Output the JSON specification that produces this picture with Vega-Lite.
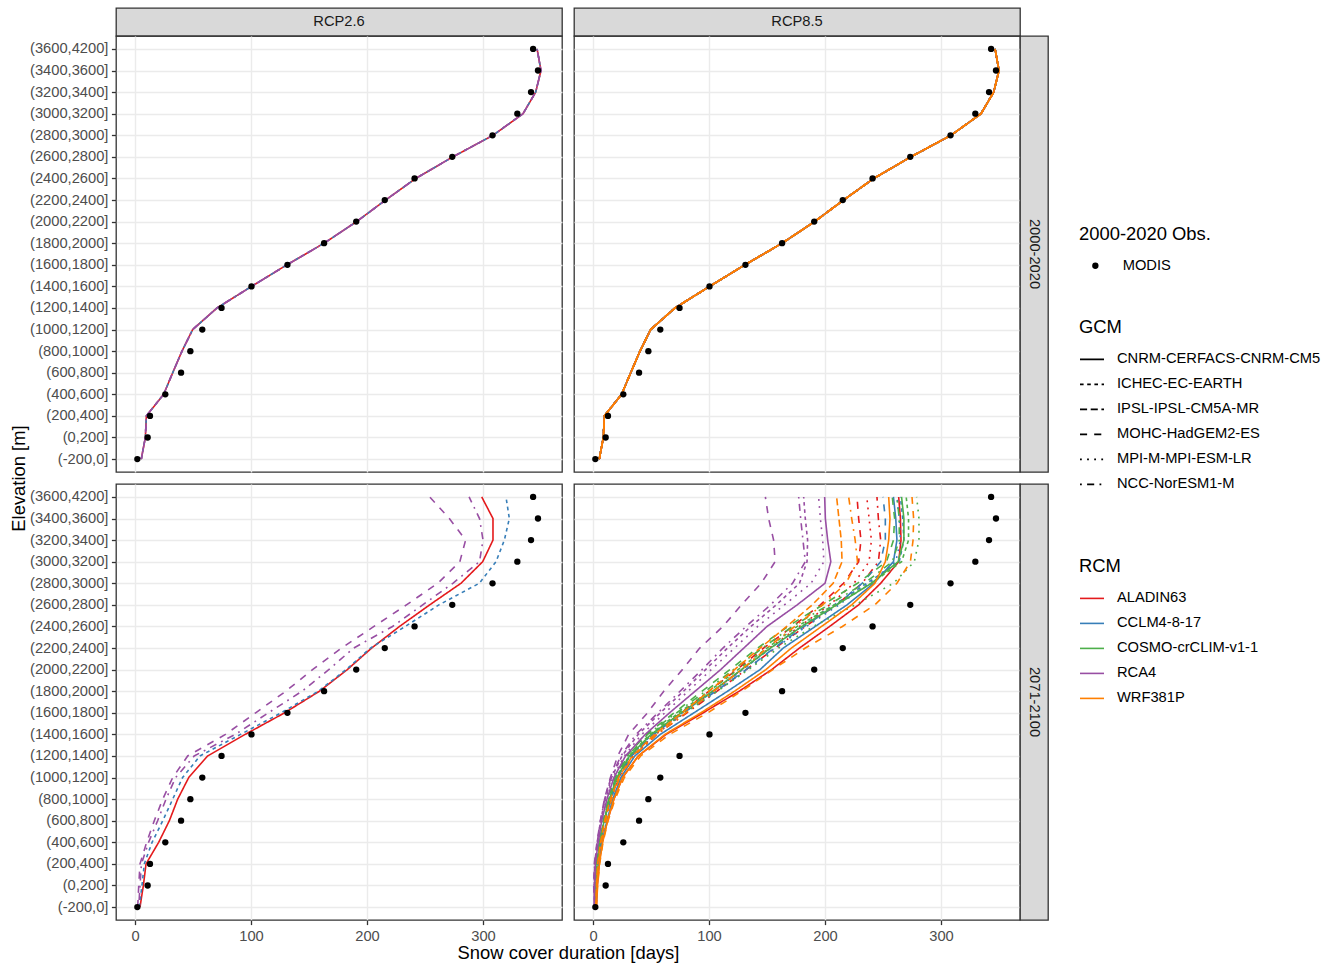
{
"$schema": "https://vega.github.io/schema/vega-lite/v6.json",
"background": "white",
"padding": {"left": 8, "top": 7, "right": 5, "bottom": 5},
"datasets": {
"bands": [
{"k":"e0","band":"(-200,0]","idx":0},{"k":"e1","band":"(0,200]","idx":1},{"k":"e2","band":"(200,400]","idx":2},{"k":"e3","band":"(400,600]","idx":3},{"k":"e4","band":"(600,800]","idx":4},{"k":"e5","band":"(800,1000]","idx":5},{"k":"e6","band":"(1000,1200]","idx":6},{"k":"e7","band":"(1200,1400]","idx":7},{"k":"e8","band":"(1400,1600]","idx":8},{"k":"e9","band":"(1600,1800]","idx":9},{"k":"e10","band":"(1800,2000]","idx":10},{"k":"e11","band":"(2000,2200]","idx":11},{"k":"e12","band":"(2200,2400]","idx":12},{"k":"e13","band":"(2400,2600]","idx":13},{"k":"e14","band":"(2600,2800]","idx":14},{"k":"e15","band":"(2800,3000]","idx":15},{"k":"e16","band":"(3000,3200]","idx":16},{"k":"e17","band":"(3200,3400]","idx":17},{"k":"e18","band":"(3400,3600]","idx":18},{"k":"e19","band":"(3600,4200]","idx":19}
],
"obs": [
{"band":"(3600,4200]","v":343.2,"src":"MODIS"},{"band":"(3400,3600]","v":347.4,"src":"MODIS"},{"band":"(3200,3400]","v":341.4,"src":"MODIS"},{"band":"(3000,3200]","v":329.6,"src":"MODIS"},{"band":"(2800,3000]","v":308.2,"src":"MODIS"},{"band":"(2600,2800]","v":273.5,"src":"MODIS"},{"band":"(2400,2600]","v":241,"src":"MODIS"},{"band":"(2200,2400]","v":215.3,"src":"MODIS"},{"band":"(2000,2200]","v":190.7,"src":"MODIS"},{"band":"(1800,2000]","v":163,"src":"MODIS"},{"band":"(1600,1800]","v":131.4,"src":"MODIS"},{"band":"(1400,1600]","v":100.4,"src":"MODIS"},{"band":"(1200,1400]","v":74.6,"src":"MODIS"},{"band":"(1000,1200]","v":58,"src":"MODIS"},{"band":"(800,1000]","v":47.7,"src":"MODIS"},{"band":"(600,800]","v":39.7,"src":"MODIS"},{"band":"(400,600]","v":26.1,"src":"MODIS"},{"band":"(200,400]","v":12.9,"src":"MODIS"},{"band":"(0,200]","v":10.9,"src":"MODIS"},{"band":"(-200,0]","v":2,"src":"MODIS"}
],
"lines": [
{"s":"RCP2.6","p":"2000-2020","g":"CNRM-CERFACS-CNRM-CM5","r":"ALADIN63","e0":5.4,"e1":8.9,"e2":9.8,"e3":24.7,"e4":32.5,"e5":40.5,"e6":49.7,"e7":70.7,"e8":100.5,"e9":131,"e10":163,"e11":191,"e12":216,"e13":242,"e14":274,"e15":308.6,"e16":334.5,"e17":345.4,"e18":350,"e19":346.6},
{"s":"RCP2.6","p":"2000-2020","g":"ICHEC-EC-EARTH","r":"CCLM4-8-17","e0":5.4,"e1":8.9,"e2":9.8,"e3":24.7,"e4":32.5,"e5":40.5,"e6":49.7,"e7":70.7,"e8":100.5,"e9":131,"e10":163,"e11":191,"e12":216,"e13":242,"e14":274,"e15":308.6,"e16":334.5,"e17":345.4,"e18":350,"e19":346.6},
{"s":"RCP2.6","p":"2000-2020","g":"MOHC-HadGEM2-ES","r":"RCA4","e0":5.4,"e1":8.9,"e2":9.8,"e3":24.7,"e4":32.5,"e5":40.5,"e6":49.7,"e7":70.7,"e8":100.5,"e9":131,"e10":163,"e11":191,"e12":216,"e13":242,"e14":274,"e15":308.6,"e16":334.5,"e17":345.4,"e18":350,"e19":346.6},
{"s":"RCP2.6","p":"2000-2020","g":"NCC-NorESM1-M","r":"RCA4","e0":5.4,"e1":8.9,"e2":9.8,"e3":24.7,"e4":32.5,"e5":40.5,"e6":49.7,"e7":70.7,"e8":100.5,"e9":131,"e10":163,"e11":191,"e12":216,"e13":242,"e14":274,"e15":308.6,"e16":334.5,"e17":345.4,"e18":350,"e19":346.6},
{"s":"RCP8.5","p":"2000-2020","g":"MOHC-HadGEM2-ES","r":"ALADIN63","e0":5.4,"e1":8.9,"e2":9.8,"e3":24.7,"e4":32.5,"e5":40.5,"e6":49.7,"e7":70.7,"e8":100.5,"e9":131,"e10":163,"e11":191,"e12":216,"e13":242,"e14":274,"e15":308.6,"e16":334.5,"e17":345.4,"e18":350,"e19":346.6},
{"s":"RCP8.5","p":"2000-2020","g":"MPI-M-MPI-ESM-LR","r":"ALADIN63","e0":5.4,"e1":8.9,"e2":9.8,"e3":24.7,"e4":32.5,"e5":40.5,"e6":49.7,"e7":70.7,"e8":100.5,"e9":131,"e10":163,"e11":191,"e12":216,"e13":242,"e14":274,"e15":308.6,"e16":334.5,"e17":345.4,"e18":350,"e19":346.6},
{"s":"RCP8.5","p":"2000-2020","g":"NCC-NorESM1-M","r":"ALADIN63","e0":5.4,"e1":8.9,"e2":9.8,"e3":24.7,"e4":32.5,"e5":40.5,"e6":49.7,"e7":70.7,"e8":100.5,"e9":131,"e10":163,"e11":191,"e12":216,"e13":242,"e14":274,"e15":308.6,"e16":334.5,"e17":345.4,"e18":350,"e19":346.6},
{"s":"RCP8.5","p":"2000-2020","g":"CNRM-CERFACS-CNRM-CM5","r":"ALADIN63","e0":5.4,"e1":8.9,"e2":9.8,"e3":24.7,"e4":32.5,"e5":40.5,"e6":49.7,"e7":70.7,"e8":100.5,"e9":131,"e10":163,"e11":191,"e12":216,"e13":242,"e14":274,"e15":308.6,"e16":334.5,"e17":345.4,"e18":350,"e19":346.6},
{"s":"RCP8.5","p":"2000-2020","g":"MOHC-HadGEM2-ES","r":"CCLM4-8-17","e0":5.4,"e1":8.9,"e2":9.8,"e3":24.7,"e4":32.5,"e5":40.5,"e6":49.7,"e7":70.7,"e8":100.5,"e9":131,"e10":163,"e11":191,"e12":216,"e13":242,"e14":274,"e15":308.6,"e16":334.5,"e17":345.4,"e18":350,"e19":346.6},
{"s":"RCP8.5","p":"2000-2020","g":"CNRM-CERFACS-CNRM-CM5","r":"CCLM4-8-17","e0":5.4,"e1":8.9,"e2":9.8,"e3":24.7,"e4":32.5,"e5":40.5,"e6":49.7,"e7":70.7,"e8":100.5,"e9":131,"e10":163,"e11":191,"e12":216,"e13":242,"e14":274,"e15":308.6,"e16":334.5,"e17":345.4,"e18":350,"e19":346.6},
{"s":"RCP8.5","p":"2000-2020","g":"MPI-M-MPI-ESM-LR","r":"CCLM4-8-17","e0":5.4,"e1":8.9,"e2":9.8,"e3":24.7,"e4":32.5,"e5":40.5,"e6":49.7,"e7":70.7,"e8":100.5,"e9":131,"e10":163,"e11":191,"e12":216,"e13":242,"e14":274,"e15":308.6,"e16":334.5,"e17":345.4,"e18":350,"e19":346.6},
{"s":"RCP8.5","p":"2000-2020","g":"ICHEC-EC-EARTH","r":"CCLM4-8-17","e0":5.4,"e1":8.9,"e2":9.8,"e3":24.7,"e4":32.5,"e5":40.5,"e6":49.7,"e7":70.7,"e8":100.5,"e9":131,"e10":163,"e11":191,"e12":216,"e13":242,"e14":274,"e15":308.6,"e16":334.5,"e17":345.4,"e18":350,"e19":346.6},
{"s":"RCP8.5","p":"2000-2020","g":"MOHC-HadGEM2-ES","r":"COSMO-crCLIM-v1-1","e0":5.4,"e1":8.9,"e2":9.8,"e3":24.7,"e4":32.5,"e5":40.5,"e6":49.7,"e7":70.7,"e8":100.5,"e9":131,"e10":163,"e11":191,"e12":216,"e13":242,"e14":274,"e15":308.6,"e16":334.5,"e17":345.4,"e18":350,"e19":346.6},
{"s":"RCP8.5","p":"2000-2020","g":"CNRM-CERFACS-CNRM-CM5","r":"COSMO-crCLIM-v1-1","e0":5.4,"e1":8.9,"e2":9.8,"e3":24.7,"e4":32.5,"e5":40.5,"e6":49.7,"e7":70.7,"e8":100.5,"e9":131,"e10":163,"e11":191,"e12":216,"e13":242,"e14":274,"e15":308.6,"e16":334.5,"e17":345.4,"e18":350,"e19":346.6},
{"s":"RCP8.5","p":"2000-2020","g":"NCC-NorESM1-M","r":"COSMO-crCLIM-v1-1","e0":5.4,"e1":8.9,"e2":9.8,"e3":24.7,"e4":32.5,"e5":40.5,"e6":49.7,"e7":70.7,"e8":100.5,"e9":131,"e10":163,"e11":191,"e12":216,"e13":242,"e14":274,"e15":308.6,"e16":334.5,"e17":345.4,"e18":350,"e19":346.6},
{"s":"RCP8.5","p":"2000-2020","g":"ICHEC-EC-EARTH","r":"COSMO-crCLIM-v1-1","e0":5.4,"e1":8.9,"e2":9.8,"e3":24.7,"e4":32.5,"e5":40.5,"e6":49.7,"e7":70.7,"e8":100.5,"e9":131,"e10":163,"e11":191,"e12":216,"e13":242,"e14":274,"e15":308.6,"e16":334.5,"e17":345.4,"e18":350,"e19":346.6},
{"s":"RCP8.5","p":"2000-2020","g":"MPI-M-MPI-ESM-LR","r":"COSMO-crCLIM-v1-1","e0":5.4,"e1":8.9,"e2":9.8,"e3":24.7,"e4":32.5,"e5":40.5,"e6":49.7,"e7":70.7,"e8":100.5,"e9":131,"e10":163,"e11":191,"e12":216,"e13":242,"e14":274,"e15":308.6,"e16":334.5,"e17":345.4,"e18":350,"e19":346.6},
{"s":"RCP8.5","p":"2000-2020","g":"MOHC-HadGEM2-ES","r":"RCA4","e0":5.4,"e1":8.9,"e2":9.8,"e3":24.7,"e4":32.5,"e5":40.5,"e6":49.7,"e7":70.7,"e8":100.5,"e9":131,"e10":163,"e11":191,"e12":216,"e13":242,"e14":274,"e15":308.6,"e16":334.5,"e17":345.4,"e18":350,"e19":346.6},
{"s":"RCP8.5","p":"2000-2020","g":"NCC-NorESM1-M","r":"RCA4","e0":5.4,"e1":8.9,"e2":9.8,"e3":24.7,"e4":32.5,"e5":40.5,"e6":49.7,"e7":70.7,"e8":100.5,"e9":131,"e10":163,"e11":191,"e12":216,"e13":242,"e14":274,"e15":308.6,"e16":334.5,"e17":345.4,"e18":350,"e19":346.6},
{"s":"RCP8.5","p":"2000-2020","g":"ICHEC-EC-EARTH","r":"RCA4","e0":5.4,"e1":8.9,"e2":9.8,"e3":24.7,"e4":32.5,"e5":40.5,"e6":49.7,"e7":70.7,"e8":100.5,"e9":131,"e10":163,"e11":191,"e12":216,"e13":242,"e14":274,"e15":308.6,"e16":334.5,"e17":345.4,"e18":350,"e19":346.6},
{"s":"RCP8.5","p":"2000-2020","g":"MPI-M-MPI-ESM-LR","r":"RCA4","e0":5.4,"e1":8.9,"e2":9.8,"e3":24.7,"e4":32.5,"e5":40.5,"e6":49.7,"e7":70.7,"e8":100.5,"e9":131,"e10":163,"e11":191,"e12":216,"e13":242,"e14":274,"e15":308.6,"e16":334.5,"e17":345.4,"e18":350,"e19":346.6},
{"s":"RCP8.5","p":"2000-2020","g":"CNRM-CERFACS-CNRM-CM5","r":"RCA4","e0":5.4,"e1":8.9,"e2":9.8,"e3":24.7,"e4":32.5,"e5":40.5,"e6":49.7,"e7":70.7,"e8":100.5,"e9":131,"e10":163,"e11":191,"e12":216,"e13":242,"e14":274,"e15":308.6,"e16":334.5,"e17":345.4,"e18":350,"e19":346.6},
{"s":"RCP8.5","p":"2000-2020","g":"IPSL-IPSL-CM5A-MR","r":"WRF381P","e0":5.4,"e1":8.9,"e2":9.8,"e3":24.7,"e4":32.5,"e5":40.5,"e6":49.7,"e7":70.7,"e8":100.5,"e9":131,"e10":163,"e11":191,"e12":216,"e13":242,"e14":274,"e15":308.6,"e16":334.5,"e17":345.4,"e18":350,"e19":346.6},
{"s":"RCP8.5","p":"2000-2020","g":"NCC-NorESM1-M","r":"WRF381P","e0":5.4,"e1":8.9,"e2":9.8,"e3":24.7,"e4":32.5,"e5":40.5,"e6":49.7,"e7":70.7,"e8":100.5,"e9":131,"e10":163,"e11":191,"e12":216,"e13":242,"e14":274,"e15":308.6,"e16":334.5,"e17":345.4,"e18":350,"e19":346.6},
{"s":"RCP8.5","p":"2000-2020","g":"MOHC-HadGEM2-ES","r":"WRF381P","e0":5.4,"e1":8.9,"e2":9.8,"e3":24.7,"e4":32.5,"e5":40.5,"e6":49.7,"e7":70.7,"e8":100.5,"e9":131,"e10":163,"e11":191,"e12":216,"e13":242,"e14":274,"e15":308.6,"e16":334.5,"e17":345.4,"e18":350,"e19":346.6},
{"s":"RCP8.5","p":"2000-2020","g":"CNRM-CERFACS-CNRM-CM5","r":"WRF381P","e0":5.4,"e1":8.9,"e2":9.8,"e3":24.7,"e4":32.5,"e5":40.5,"e6":49.7,"e7":70.7,"e8":100.5,"e9":131,"e10":163,"e11":191,"e12":216,"e13":242,"e14":274,"e15":308.6,"e16":334.5,"e17":345.4,"e18":350,"e19":346.6},
{"s":"RCP2.6","p":"2071-2100","g":"CNRM-CERFACS-CNRM-CM5","r":"ALADIN63","e0":4.3,"e1":7.2,"e2":9.5,"e3":20.4,"e4":29.6,"e5":36.8,"e6":46.3,"e7":62.6,"e8":95,"e9":129,"e10":159,"e11":183,"e12":204,"e13":228,"e14":254,"e15":281,"e16":299.7,"e17":308.6,"e18":308.6,"e19":298.9},
{"s":"RCP2.6","p":"2071-2100","g":"ICHEC-EC-EARTH","r":"CCLM4-8-17","e0":3.7,"e1":6,"e2":8,"e3":14.7,"e4":23.9,"e5":32.5,"e6":41,"e7":56,"e8":91,"e9":126,"e10":158,"e11":182,"e12":203,"e13":233,"e14":262,"e15":296.8,"e16":311.2,"e17":318.4,"e18":322.7,"e19":319.8},
{"s":"RCP2.6","p":"2071-2100","g":"MOHC-HadGEM2-ES","r":"RCA4","e0":2.3,"e1":3.2,"e2":4.3,"e3":10,"e4":16.6,"e5":23.9,"e6":32.5,"e7":45.4,"e8":78,"e9":104,"e10":130,"e11":153,"e12":178,"e13":206,"e14":234,"e15":261,"e16":280,"e17":285,"e18":271,"e19":254},
{"s":"RCP2.6","p":"2071-2100","g":"NCC-NorESM1-M","r":"RCA4","e0":3.2,"e1":4.3,"e2":5.5,"e3":11.7,"e4":19.5,"e5":26.7,"e6":35,"e7":51,"e8":86.5,"e9":115,"e10":144,"e11":167,"e12":188.5,"e13":222,"e14":248,"e15":274,"e16":297,"e17":300,"e18":297,"e19":288},
{"s":"RCP8.5","p":"2071-2100","g":"MOHC-HadGEM2-ES","r":"ALADIN63","e0":2.2,"e1":2.5,"e2":3.5,"e3":6,"e4":9.5,"e5":14.5,"e6":21,"e7":33,"e8":52,"e9":76,"e10":100,"e11":124,"e12":147,"e13":172,"e14":196,"e15":216,"e16":229,"e17":231,"e18":229,"e19":227.6},
{"s":"RCP8.5","p":"2071-2100","g":"MPI-M-MPI-ESM-LR","r":"ALADIN63","e0":2.3,"e1":2.6,"e2":3.7,"e3":6.2,"e4":10,"e5":15,"e6":22,"e7":34,"e8":54,"e9":79,"e10":104,"e11":128,"e12":152,"e13":178,"e14":204,"e15":225,"e16":238,"e17":240,"e18":238,"e19":236},
{"s":"RCP8.5","p":"2071-2100","g":"NCC-NorESM1-M","r":"ALADIN63","e0":2.4,"e1":2.7,"e2":3.9,"e3":6.5,"e4":10.5,"e5":15.5,"e6":22.5,"e7":35,"e8":55,"e9":81,"e10":107,"e11":132,"e12":157,"e13":183,"e14":210,"e15":232,"e16":246,"e17":248,"e18":246,"e19":244.8},
{"s":"RCP8.5","p":"2071-2100","g":"CNRM-CERFACS-CNRM-CM5","r":"ALADIN63","e0":2.8,"e1":3.7,"e2":5.2,"e3":8,"e4":12.5,"e5":18,"e6":25.5,"e7":39,"e8":63,"e9":95,"e10":126,"e11":154,"e12":178,"e13":204,"e14":229,"e15":248,"e16":263.5,"e17":265.5,"e18":265,"e19":263.5},
{"s":"RCP8.5","p":"2071-2100","g":"MOHC-HadGEM2-ES","r":"CCLM4-8-17","e0":2.4,"e1":2.8,"e2":4,"e3":6.5,"e4":10.5,"e5":15.5,"e6":22,"e7":33,"e8":52,"e9":78,"e10":106,"e11":132,"e12":156,"e13":182,"e14":210,"e15":232,"e16":248,"e17":252,"e18":252,"e19":250},
{"s":"RCP8.5","p":"2071-2100","g":"CNRM-CERFACS-CNRM-CM5","r":"CCLM4-8-17","e0":2.7,"e1":3.5,"e2":5,"e3":7.8,"e4":12,"e5":17,"e6":24,"e7":36,"e8":58,"e9":87,"e10":116,"e11":144,"e12":164,"e13":191.6,"e14":219,"e15":242,"e16":259,"e17":262,"e18":261,"e19":259},
{"s":"RCP8.5","p":"2071-2100","g":"MPI-M-MPI-ESM-LR","r":"CCLM4-8-17","e0":2.3,"e1":2.7,"e2":3.8,"e3":6.2,"e4":10,"e5":15,"e6":21.5,"e7":33,"e8":53,"e9":79,"e10":107,"e11":133,"e12":157,"e13":184,"e14":212,"e15":238,"e16":261,"e17":265,"e18":264,"e19":262},
{"s":"RCP8.5","p":"2071-2100","g":"ICHEC-EC-EARTH","r":"CCLM4-8-17","e0":2.2,"e1":2.6,"e2":3.6,"e3":6,"e4":9.8,"e5":14.5,"e6":21,"e7":32,"e8":51,"e9":77,"e10":104,"e11":129,"e12":153,"e13":180,"e14":208,"e15":236,"e16":264,"e17":268,"e18":267,"e19":265},
{"s":"RCP8.5","p":"2071-2100","g":"MOHC-HadGEM2-ES","r":"COSMO-crCLIM-v1-1","e0":1.9,"e1":2.2,"e2":3,"e3":5.3,"e4":8.8,"e5":13,"e6":19,"e7":29,"e8":46,"e9":70,"e10":94,"e11":118,"e12":142,"e13":168,"e14":198,"e15":228,"e16":253,"e17":259,"e18":260,"e19":258},
{"s":"RCP8.5","p":"2071-2100","g":"CNRM-CERFACS-CNRM-CM5","r":"COSMO-crCLIM-v1-1","e0":2.2,"e1":2.5,"e2":3.5,"e3":5.9,"e4":9.6,"e5":14.2,"e6":20.5,"e7":31.5,"e8":50,"e9":76,"e10":103,"e11":128,"e12":153,"e13":180,"e14":210,"e15":240,"e16":263,"e17":268,"e18":268,"e19":266},
{"s":"RCP8.5","p":"2071-2100","g":"NCC-NorESM1-M","r":"COSMO-crCLIM-v1-1","e0":2,"e1":2.3,"e2":3.2,"e3":5.5,"e4":9,"e5":13.5,"e6":19.5,"e7":30,"e8":47,"e9":72,"e10":97,"e11":121,"e12":146,"e13":172,"e14":203,"e15":234,"e16":258,"e17":264,"e18":264,"e19":262},
{"s":"RCP8.5","p":"2071-2100","g":"ICHEC-EC-EARTH","r":"COSMO-crCLIM-v1-1","e0":2.1,"e1":2.4,"e2":3.4,"e3":5.8,"e4":9.5,"e5":14,"e6":20,"e7":31,"e8":49,"e9":74,"e10":100,"e11":125,"e12":150,"e13":176,"e14":208,"e15":240,"e16":266,"e17":272,"e18":272,"e19":270},
{"s":"RCP8.5","p":"2071-2100","g":"MPI-M-MPI-ESM-LR","r":"COSMO-crCLIM-v1-1","e0":2.2,"e1":2.5,"e2":3.6,"e3":6,"e4":9.8,"e5":14.5,"e6":21,"e7":32,"e8":52,"e9":79,"e10":107,"e11":134,"e12":160,"e13":190,"e14":226,"e15":259,"e16":277,"e17":281,"e18":281,"e19":279},
{"s":"RCP8.5","p":"2071-2100","g":"MOHC-HadGEM2-ES","r":"RCA4","e0":1,"e1":0.6,"e2":1.1,"e3":3.4,"e4":6.3,"e5":9.8,"e6":15,"e7":21.3,"e8":30.7,"e9":47,"e10":61,"e11":77,"e12":92,"e13":112,"e14":128,"e15":145,"e16":157,"e17":155.7,"e18":151.4,"e19":148.6},
{"s":"RCP8.5","p":"2071-2100","g":"NCC-NorESM1-M","r":"RCA4","e0":1.1,"e1":0.9,"e2":1.4,"e3":3.6,"e4":6.5,"e5":10,"e6":15.5,"e7":24,"e8":37,"e9":56,"e10":75,"e11":94,"e12":112,"e13":132,"e14":153,"e15":172,"e16":183,"e17":181,"e18":179,"e19":177.3},
{"s":"RCP8.5","p":"2071-2100","g":"ICHEC-EC-EARTH","r":"RCA4","e0":1.2,"e1":1,"e2":1.5,"e3":3.8,"e4":6.5,"e5":10.5,"e6":16,"e7":25,"e8":39,"e9":58,"e10":78,"e11":97,"e12":116,"e13":136,"e14":158,"e15":178,"e16":184.5,"e17":185,"e18":183,"e19":181.6},
{"s":"RCP8.5","p":"2071-2100","g":"MPI-M-MPI-ESM-LR","r":"RCA4","e0":1.3,"e1":1.2,"e2":1.8,"e3":4,"e4":7,"e5":11,"e6":17,"e7":27,"e8":42,"e9":62,"e10":82,"e11":102,"e12":122,"e13":142,"e14":165,"e15":188,"e16":199,"e17":198,"e18":196,"e19":194.5},
{"s":"RCP8.5","p":"2071-2100","g":"CNRM-CERFACS-CNRM-CM5","r":"RCA4","e0":1.5,"e1":1.5,"e2":2,"e3":4.5,"e4":7.5,"e5":12,"e6":18,"e7":28,"e8":45,"e9":66,"e10":88,"e11":110,"e12":130,"e13":150,"e14":176,"e15":200,"e16":205,"e17":202.3,"e18":200.3,"e19":199.7},
{"s":"RCP8.5","p":"2071-2100","g":"IPSL-IPSL-CM5A-MR","r":"WRF381P","e0":2.5,"e1":3,"e2":4,"e3":6.5,"e4":10,"e5":15,"e6":22,"e7":34,"e8":53,"e9":77,"e10":100,"e11":122,"e12":144,"e13":167,"e14":189,"e15":207,"e16":214.7,"e17":214,"e18":212,"e19":210},
{"s":"RCP8.5","p":"2071-2100","g":"NCC-NorESM1-M","r":"WRF381P","e0":2.6,"e1":3.2,"e2":4.5,"e3":7,"e4":11,"e5":16,"e6":23,"e7":35,"e8":55,"e9":80,"e10":104,"e11":128,"e12":150,"e13":174,"e14":198,"e15":218,"e16":228,"e17":226,"e18":223,"e19":220.4},
{"s":"RCP8.5","p":"2071-2100","g":"MOHC-HadGEM2-ES","r":"WRF381P","e0":2.9,"e1":4,"e2":5.7,"e3":8.6,"e4":13,"e5":19,"e6":27,"e7":41,"e8":66,"e9":99,"e10":128,"e11":155,"e12":183,"e13":215,"e14":243,"e15":262,"e16":273.6,"e17":275.9,"e18":276.4,"e19":275},
{"s":"RCP8.5","p":"2071-2100","g":"CNRM-CERFACS-CNRM-CM5","r":"WRF381P","e0":2.8,"e1":3.8,"e2":5.5,"e3":8.3,"e4":12.5,"e5":18,"e6":25.5,"e7":39,"e8":62,"e9":93,"e10":122,"e11":149,"e12":171,"e13":197,"e14":223,"e15":243,"e16":252,"e17":254.9,"e18":256,"e19":254.9}
]
},
"columns": 4,
"spacing": 0,
"bounds": "flush",
"align": "each",
"concat": [
  {"width": 446, "height": 28, "view": {"fill": "#d9d9d9", "stroke": "#333333", "strokeWidth": 1.3}, "data": {"values": [{"lab": "RCP2.6"}]}, "mark": {"type": "text", "fontSize": 14.7, "color": "#1a1a1a"}, "encoding": {"text": {"field": "lab"}}},
  {"width": 12, "height": 28, "view": {"stroke": "transparent"}, "data": {"values": []}, "mark": {"type": "point", "opacity": 0}},
  {"width": 446, "height": 28, "view": {"fill": "#d9d9d9", "stroke": "#333333", "strokeWidth": 1.3}, "data": {"values": [{"lab": "RCP8.5"}]}, "mark": {"type": "text", "fontSize": 14.7, "color": "#1a1a1a"}, "encoding": {"text": {"field": "lab"}}},
  {"width": 28, "height": 28, "view": {"stroke": "transparent"}, "data": {"values": []}, "mark": {"type": "point", "opacity": 0}},

  {"width": 446, "height": 436, "layer": [
   {"data": {"name": "lines"}, "transform": [{"filter": "datum.s === 'RCP2.6' && datum.p === '2000-2020'"}, {"fold": ["e0","e1","e2","e3","e4","e5","e6","e7","e8","e9","e10","e11","e12","e13","e14","e15","e16","e17","e18","e19"], "as": ["k","v"]}, {"lookup": "k", "from": {"data": {"name": "bands"}, "key": "k", "fields": ["band","idx"]}}],
    "mark": {"type": "line", "strokeWidth": 1.6},
    "encoding": {
     "x": {"field": "v", "type": "quantitative", "scale": {"domain": [-16.4, 368.1], "nice": false, "zero": false}, "axis": {"values": [0,100,200,300], "labels": false, "ticks": false, "title": null, "grid": true}},
     "y": {"field": "band", "type": "ordinal", "scale": {"type": "point", "padding": 0.6, "domain": ["(3600,4200]","(3400,3600]","(3200,3400]","(3000,3200]","(2800,3000]","(2600,2800]","(2400,2600]","(2200,2400]","(2000,2200]","(1800,2000]","(1600,1800]","(1400,1600]","(1200,1400]","(1000,1200]","(800,1000]","(600,800]","(400,600]","(200,400]","(0,200]","(-200,0]"]}, "axis": {"title": "Elevation [m]", "titleY": 442, "grid": true}},
     "order": {"field": "idx", "type": "quantitative"},
     "stroke": {"field": "r", "type": "nominal", "title": "RCM", "scale": {"domain": ["ALADIN63","CCLM4-8-17","COSMO-crCLIM-v1-1","RCA4","WRF381P"], "range": ["#e41a1c","#377eb8","#4daf4a","#984ea3","#ff7f00"]}, "legend": {"orient": "none", "legendX": 963, "legendY": 549, "symbolType": "stroke", "symbolSize": 576, "symbolStrokeWidth": 1.6, "titlePadding": 10}},
     "strokeDash": {"field": "g", "type": "nominal", "title": "GCM", "scale": {"domain": ["CNRM-CERFACS-CNRM-CM5","ICHEC-EC-EARTH","IPSL-IPSL-CM5A-MR","MOHC-HadGEM2-ES","MPI-M-MPI-ESM-LR","NCC-NorESM1-M"], "range": [[1,0],[3.6,3.6],[7.1,3.6],[7.1,7.1],[1.8,5.3],[1.8,5.3,7.1,5.3]]}, "legend": {"orient": "none", "legendX": 963, "legendY": 310, "symbolType": "stroke", "symbolSize": 576, "symbolStrokeColor": "black", "symbolStrokeWidth": 1.6, "titlePadding": 10}}
    }},
   {"data": {"name": "obs"}, "mark": {"type": "point", "filled": true, "size": 40, "opacity": 1},
    "encoding": {
     "x": {"field": "v", "type": "quantitative", "scale": {"domain": [-16.4, 368.1], "nice": false, "zero": false}, "axis": {"values": [0,100,200,300], "labels": false, "ticks": false, "title": null, "grid": true}},
     "y": {"field": "band", "type": "ordinal", "scale": {"type": "point", "padding": 0.6, "domain": ["(3600,4200]","(3400,3600]","(3200,3400]","(3000,3200]","(2800,3000]","(2600,2800]","(2400,2600]","(2200,2400]","(2000,2200]","(1800,2000]","(1600,1800]","(1400,1600]","(1200,1400]","(1000,1200]","(800,1000]","(600,800]","(400,600]","(200,400]","(0,200]","(-200,0]"]}, "axis": {"title": "Elevation [m]", "titleY": 442, "grid": true}},
     "fill": {"field": "src", "type": "nominal", "title": "2000-2020 Obs.", "scale": {"domain": ["MODIS"], "range": ["black"]}, "legend": {"orient": "none", "legendX": 963, "legendY": 217, "symbolType": "circle", "symbolSize": 40, "symbolOffset": 9, "labelOffset": 20, "titlePadding": 15}}
    }}
  ]},
  {"width": 12, "height": 436, "view": {"stroke": "transparent"}, "data": {"values": []}, "mark": {"type": "point", "opacity": 0}},
  {"width": 446, "height": 436, "layer": [
    {"data": {"name": "lines"}, "transform": [{"filter": "datum.s === 'RCP8.5' && datum.p === '2000-2020'"}, {"fold": ["e0","e1","e2","e3","e4","e5","e6","e7","e8","e9","e10","e11","e12","e13","e14","e15","e16","e17","e18","e19"], "as": ["k","v"]}, {"lookup": "k", "from": {"data": {"name": "bands"}, "key": "k", "fields": ["band","idx"]}}],
     "mark": {"type": "line", "strokeWidth": 1.6},
     "encoding": {
      "x": {"field": "v", "type": "quantitative", "scale": {"domain": [-16.4, 368.1], "nice": false, "zero": false}, "axis": {"values": [0,100,200,300], "labels": false, "ticks": false, "title": null, "grid": true}},
      "y": {"field": "band", "type": "ordinal", "scale": {"type": "point", "padding": 0.6, "domain": ["(3600,4200]","(3400,3600]","(3200,3400]","(3000,3200]","(2800,3000]","(2600,2800]","(2400,2600]","(2200,2400]","(2000,2200]","(1800,2000]","(1600,1800]","(1400,1600]","(1200,1400]","(1000,1200]","(800,1000]","(600,800]","(400,600]","(200,400]","(0,200]","(-200,0]"]}, "axis": {"title": null, "labels": false, "ticks": false, "grid": true}},
      "order": {"field": "idx", "type": "quantitative"},
      "stroke": {"field": "r", "type": "nominal", "title": "RCM", "scale": {"domain": ["ALADIN63","CCLM4-8-17","COSMO-crCLIM-v1-1","RCA4","WRF381P"], "range": ["#e41a1c","#377eb8","#4daf4a","#984ea3","#ff7f00"]}, "legend": {"orient": "none", "legendX": 963, "legendY": 549, "symbolType": "stroke", "symbolSize": 576, "symbolStrokeWidth": 1.6, "titlePadding": 10}},
      "strokeDash": {"field": "g", "type": "nominal", "title": "GCM", "scale": {"domain": ["CNRM-CERFACS-CNRM-CM5","ICHEC-EC-EARTH","IPSL-IPSL-CM5A-MR","MOHC-HadGEM2-ES","MPI-M-MPI-ESM-LR","NCC-NorESM1-M"], "range": [[1,0],[3.6,3.6],[7.1,3.6],[7.1,7.1],[1.8,5.3],[1.8,5.3,7.1,5.3]]}, "legend": {"orient": "none", "legendX": 963, "legendY": 310, "symbolType": "stroke", "symbolSize": 576, "symbolStrokeColor": "black", "symbolStrokeWidth": 1.6, "titlePadding": 10}}
     }},
    {"data": {"name": "obs"}, "mark": {"type": "point", "filled": true, "size": 40, "opacity": 1},
     "encoding": {
      "x": {"field": "v", "type": "quantitative", "scale": {"domain": [-16.4, 368.1], "nice": false, "zero": false}, "axis": {"values": [0,100,200,300], "labels": false, "ticks": false, "title": null, "grid": true}},
      "y": {"field": "band", "type": "ordinal", "scale": {"type": "point", "padding": 0.6, "domain": ["(3600,4200]","(3400,3600]","(3200,3400]","(3000,3200]","(2800,3000]","(2600,2800]","(2400,2600]","(2200,2400]","(2000,2200]","(1800,2000]","(1600,1800]","(1400,1600]","(1200,1400]","(1000,1200]","(800,1000]","(600,800]","(400,600]","(200,400]","(0,200]","(-200,0]"]}, "axis": {"title": null, "labels": false, "ticks": false, "grid": true}},
      "fill": {"field": "src", "type": "nominal", "title": "2000-2020 Obs.", "scale": {"domain": ["MODIS"], "range": ["black"]}, "legend": {"orient": "none", "legendX": 963, "legendY": 217, "symbolType": "circle", "symbolSize": 40, "symbolOffset": 9, "labelOffset": 20, "titlePadding": 15}}
     }}
  ]},
  {"width": 28, "height": 436, "view": {"fill": "#d9d9d9", "stroke": "#333333", "strokeWidth": 1.3}, "data": {"values": [{"lab": "2000-2020"}]}, "mark": {"type": "text", "fontSize": 14.7, "color": "#1a1a1a", "angle": 90}, "encoding": {"text": {"field": "lab"}}},

  {"width": 1, "height": 12, "view": {"stroke": "transparent"}, "data": {"values": []}, "mark": {"type": "point", "opacity": 0}},
  {"width": 12, "height": 12, "view": {"stroke": "transparent"}, "data": {"values": []}, "mark": {"type": "point", "opacity": 0}},
  {"width": 1, "height": 12, "view": {"stroke": "transparent"}, "data": {"values": []}, "mark": {"type": "point", "opacity": 0}},
  {"width": 1, "height": 12, "view": {"stroke": "transparent"}, "data": {"values": []}, "mark": {"type": "point", "opacity": 0}},

  {"width": 446, "height": 436, "layer": [
   {"data": {"name": "lines"}, "transform": [{"filter": "datum.s === 'RCP2.6' && datum.p === '2071-2100'"}, {"fold": ["e0","e1","e2","e3","e4","e5","e6","e7","e8","e9","e10","e11","e12","e13","e14","e15","e16","e17","e18","e19"], "as": ["k","v"]}, {"lookup": "k", "from": {"data": {"name": "bands"}, "key": "k", "fields": ["band","idx"]}}],
    "mark": {"type": "line", "strokeWidth": 1.6},
    "encoding": {
     "x": {"field": "v", "type": "quantitative", "scale": {"domain": [-16.4, 368.1], "nice": false, "zero": false}, "axis": {"values": [0,100,200,300], "title": "Snow cover duration [days]", "titleX": 452, "grid": true}},
     "y": {"field": "band", "type": "ordinal", "scale": {"type": "point", "padding": 0.6, "domain": ["(3600,4200]","(3400,3600]","(3200,3400]","(3000,3200]","(2800,3000]","(2600,2800]","(2400,2600]","(2200,2400]","(2000,2200]","(1800,2000]","(1600,1800]","(1400,1600]","(1200,1400]","(1000,1200]","(800,1000]","(600,800]","(400,600]","(200,400]","(0,200]","(-200,0]"]}, "axis": {"title": null, "grid": true}},
     "order": {"field": "idx", "type": "quantitative"},
     "stroke": {"field": "r", "type": "nominal", "title": "RCM", "scale": {"domain": ["ALADIN63","CCLM4-8-17","COSMO-crCLIM-v1-1","RCA4","WRF381P"], "range": ["#e41a1c","#377eb8","#4daf4a","#984ea3","#ff7f00"]}, "legend": {"orient": "none", "legendX": 963, "legendY": 549, "symbolType": "stroke", "symbolSize": 576, "symbolStrokeWidth": 1.6, "titlePadding": 10}},
     "strokeDash": {"field": "g", "type": "nominal", "title": "GCM", "scale": {"domain": ["CNRM-CERFACS-CNRM-CM5","ICHEC-EC-EARTH","IPSL-IPSL-CM5A-MR","MOHC-HadGEM2-ES","MPI-M-MPI-ESM-LR","NCC-NorESM1-M"], "range": [[1,0],[3.6,3.6],[7.1,3.6],[7.1,7.1],[1.8,5.3],[1.8,5.3,7.1,5.3]]}, "legend": {"orient": "none", "legendX": 963, "legendY": 310, "symbolType": "stroke", "symbolSize": 576, "symbolStrokeColor": "black", "symbolStrokeWidth": 1.6, "titlePadding": 10}}
    }},
   {"data": {"name": "obs"}, "mark": {"type": "point", "filled": true, "size": 40, "opacity": 1},
    "encoding": {
     "x": {"field": "v", "type": "quantitative", "scale": {"domain": [-16.4, 368.1], "nice": false, "zero": false}, "axis": {"values": [0,100,200,300], "title": "Snow cover duration [days]", "titleX": 452, "grid": true}},
     "y": {"field": "band", "type": "ordinal", "scale": {"type": "point", "padding": 0.6, "domain": ["(3600,4200]","(3400,3600]","(3200,3400]","(3000,3200]","(2800,3000]","(2600,2800]","(2400,2600]","(2200,2400]","(2000,2200]","(1800,2000]","(1600,1800]","(1400,1600]","(1200,1400]","(1000,1200]","(800,1000]","(600,800]","(400,600]","(200,400]","(0,200]","(-200,0]"]}, "axis": {"title": null, "grid": true}},
     "fill": {"field": "src", "type": "nominal", "title": "2000-2020 Obs.", "scale": {"domain": ["MODIS"], "range": ["black"]}, "legend": {"orient": "none", "legendX": 963, "legendY": 217, "symbolType": "circle", "symbolSize": 40, "symbolOffset": 9, "labelOffset": 20, "titlePadding": 15}}
    }}
  ]},
  {"width": 12, "height": 436, "view": {"stroke": "transparent"}, "data": {"values": []}, "mark": {"type": "point", "opacity": 0}},
  {"width": 446, "height": 436, "layer": [
    {"data": {"name": "lines"}, "transform": [{"filter": "datum.s === 'RCP8.5' && datum.p === '2071-2100'"}, {"fold": ["e0","e1","e2","e3","e4","e5","e6","e7","e8","e9","e10","e11","e12","e13","e14","e15","e16","e17","e18","e19"], "as": ["k","v"]}, {"lookup": "k", "from": {"data": {"name": "bands"}, "key": "k", "fields": ["band","idx"]}}],
     "mark": {"type": "line", "strokeWidth": 1.6},
     "encoding": {
      "x": {"field": "v", "type": "quantitative", "scale": {"domain": [-16.4, 368.1], "nice": false, "zero": false}, "axis": {"values": [0,100,200,300], "title": null, "grid": true}},
      "y": {"field": "band", "type": "ordinal", "scale": {"type": "point", "padding": 0.6, "domain": ["(3600,4200]","(3400,3600]","(3200,3400]","(3000,3200]","(2800,3000]","(2600,2800]","(2400,2600]","(2200,2400]","(2000,2200]","(1800,2000]","(1600,1800]","(1400,1600]","(1200,1400]","(1000,1200]","(800,1000]","(600,800]","(400,600]","(200,400]","(0,200]","(-200,0]"]}, "axis": {"title": null, "labels": false, "ticks": false, "grid": true}},
      "order": {"field": "idx", "type": "quantitative"},
      "stroke": {"field": "r", "type": "nominal", "title": "RCM", "scale": {"domain": ["ALADIN63","CCLM4-8-17","COSMO-crCLIM-v1-1","RCA4","WRF381P"], "range": ["#e41a1c","#377eb8","#4daf4a","#984ea3","#ff7f00"]}, "legend": {"orient": "none", "legendX": 963, "legendY": 549, "symbolType": "stroke", "symbolSize": 576, "symbolStrokeWidth": 1.6, "titlePadding": 10}},
      "strokeDash": {"field": "g", "type": "nominal", "title": "GCM", "scale": {"domain": ["CNRM-CERFACS-CNRM-CM5","ICHEC-EC-EARTH","IPSL-IPSL-CM5A-MR","MOHC-HadGEM2-ES","MPI-M-MPI-ESM-LR","NCC-NorESM1-M"], "range": [[1,0],[3.6,3.6],[7.1,3.6],[7.1,7.1],[1.8,5.3],[1.8,5.3,7.1,5.3]]}, "legend": {"orient": "none", "legendX": 963, "legendY": 310, "symbolType": "stroke", "symbolSize": 576, "symbolStrokeColor": "black", "symbolStrokeWidth": 1.6, "titlePadding": 10}}
     }},
    {"data": {"name": "obs"}, "mark": {"type": "point", "filled": true, "size": 40, "opacity": 1},
     "encoding": {
      "x": {"field": "v", "type": "quantitative", "scale": {"domain": [-16.4, 368.1], "nice": false, "zero": false}, "axis": {"values": [0,100,200,300], "title": null, "grid": true}},
      "y": {"field": "band", "type": "ordinal", "scale": {"type": "point", "padding": 0.6, "domain": ["(3600,4200]","(3400,3600]","(3200,3400]","(3000,3200]","(2800,3000]","(2600,2800]","(2400,2600]","(2200,2400]","(2000,2200]","(1800,2000]","(1600,1800]","(1400,1600]","(1200,1400]","(1000,1200]","(800,1000]","(600,800]","(400,600]","(200,400]","(0,200]","(-200,0]"]}, "axis": {"title": null, "labels": false, "ticks": false, "grid": true}},
      "fill": {"field": "src", "type": "nominal", "title": "2000-2020 Obs.", "scale": {"domain": ["MODIS"], "range": ["black"]}, "legend": {"orient": "none", "legendX": 963, "legendY": 217, "symbolType": "circle", "symbolSize": 40, "symbolOffset": 9, "labelOffset": 20, "titlePadding": 15}}
     }}
  ]},
  {"width": 28, "height": 436, "view": {"fill": "#d9d9d9", "stroke": "#333333", "strokeWidth": 1.3}, "data": {"values": [{"lab": "2071-2100"}]}, "mark": {"type": "text", "fontSize": 14.7, "color": "#1a1a1a", "angle": 90}, "encoding": {"text": {"field": "lab"}}}
],
"config": {
 "font": "Liberation Sans",
 "view": {"stroke": "#333333", "strokeWidth": 1.3},
 "axis": {"domain": false, "gridColor": "#ebebeb", "gridWidth": 1.4, "tickColor": "#333333", "tickSize": 4.6, "tickWidth": 1.3, "labelColor": "#4d4d4d", "labelFontSize": 14.7, "labelPadding": 3.5, "titleFontSize": 18.4, "titleFontWeight": "normal", "titleColor": "#000000", "titlePadding": 1},
 "legend": {"titleFontSize": 18.4, "titleFontWeight": "normal", "titleColor": "#000000", "labelFontSize": 14.7, "labelColor": "#000000", "labelLimit": 400, "rowPadding": 5, "labelOffset": 12}
}
}
